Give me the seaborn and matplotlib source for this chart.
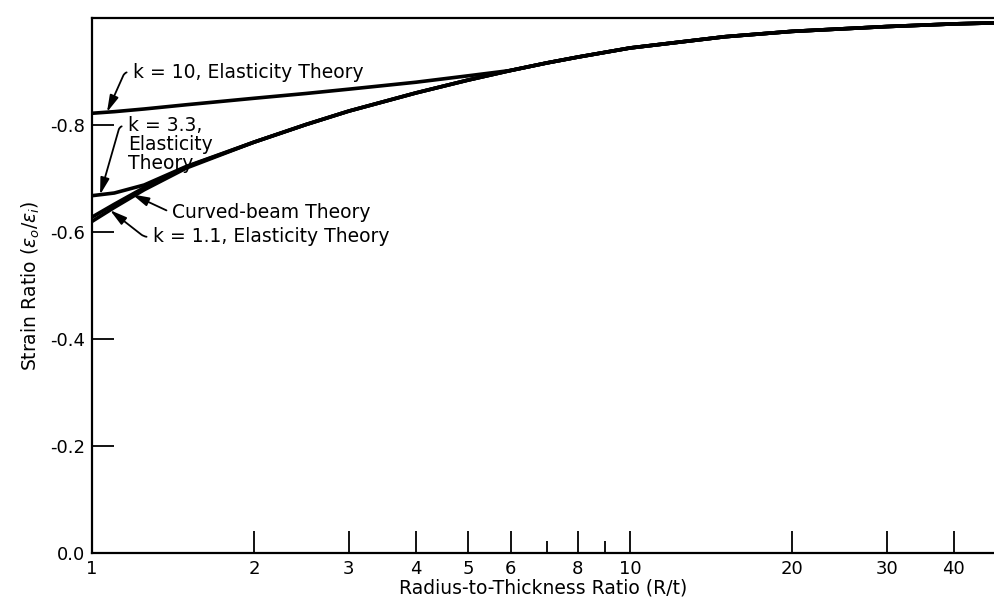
import numpy as np
import pandas as pd
import seaborn as sns
import matplotlib.pyplot as plt
from matplotlib.ticker import FixedLocator, NullFormatter

# ----- Data -----
ratio = [1, 1.1, 1.25, 1.5, 2, 2.5, 3, 4, 5, 6, 7, 8, 10, 15, 20, 30, 40, 48]
curved_beam = [-0.628, -0.652, -0.683, -0.722, -0.768, -0.801, -0.826, -0.860, -0.884,
               -0.902, -0.916, -0.927, -0.944, -0.965, -0.975, -0.984, -0.989, -0.991]
k_1_1 = [-0.620, -0.646, -0.679, -0.720, -0.768, -0.801, -0.826, -0.860, -0.884,
         -0.902, -0.916, -0.927, -0.944, -0.965, -0.975, -0.984, -0.989, -0.991]
k_3_3 = [-0.668, -0.673, -0.688, -0.723, -0.768, -0.801, -0.826, -0.860, -0.884,
         -0.902, -0.916, -0.927, -0.944, -0.965, -0.975, -0.984, -0.989, -0.991]
k_10 = [-0.822, -0.825, -0.830, -0.838, -0.850, -0.859, -0.867, -0.880, -0.892,
        -0.902, -0.916, -0.927, -0.944, -0.965, -0.975, -0.984, -0.989, -0.991]

x_major = [1, 2, 3, 4, 5, 6, 8, 10, 20, 30, 40]
x_major_labels = ['1', '2', '3', '4', '5', '6', '8', '10', '20', '30', '40']
x_minor = [7, 9]
y_ticks = [0.0, -0.2, -0.4, -0.6, -0.8]
y_tick_labels = ['0.0', '-0.2', '-0.4', '-0.6', '-0.8']

# ----- Settings -----
sns.set_style('white')
plt.rcParams['font.family'] = ['DejaVu Sans']
plt.rcParams['font.size'] = 13
plt.rcParams['text.color'] = 'black'
plt.rcParams['axes.labelcolor'] = 'black'
plt.rcParams['xtick.color'] = 'black'
plt.rcParams['ytick.color'] = 'black'

df = pd.DataFrame({'ratio': ratio, 'Curved-beam': curved_beam, 'k=1.1': k_1_1,
                   'k=3.3': k_3_3, 'k=10': k_10})
long_df = df.melt(id_vars='ratio', var_name='curve', value_name='strain')

fig = plt.figure(figsize=(9.95, 6), dpi=100)
ax = fig.add_axes([0.0925, 0.078, 0.9075, 0.892])

sns.lineplot(data=long_df, x='ratio', y='strain', units='curve', estimator=None,
             color='black', lw=2.6, ax=ax, legend=False)

ax.set_xscale('log')
ax.set_xlim(1, 47.7)
ax.set_ylim(0, -1.0)

# ----- Ticks -----
ax.xaxis.set_major_locator(FixedLocator(x_major))
ax.set_xticklabels(x_major_labels)
ax.xaxis.set_minor_locator(FixedLocator(x_minor))
ax.xaxis.set_minor_formatter(NullFormatter())
ax.set_yticks(y_ticks)
ax.set_yticklabels(y_tick_labels)
ax.tick_params(axis='both', which='major', direction='in', length=16, width=1.3,
               color='black', labelcolor='black', labelsize=13, pad=5,
               bottom=True, left=True, top=False, right=False)
ax.tick_params(axis='x', which='minor', direction='in', length=9, width=1.3,
               color='black', bottom=True, top=False)

for side in ['left', 'bottom', 'top']:
    ax.spines[side].set_visible(True)
    ax.spines[side].set_color('black')
    ax.spines[side].set_linewidth(1.6)
ax.spines['right'].set_visible(False)

ax.set_xlabel('Radius-to-Thickness Ratio (R/t)', fontsize=13.5, labelpad=0)
ax.set_ylabel(r'Strain Ratio ($\epsilon_o/\epsilon_i$)', fontsize=13.5, labelpad=6)

# ----- Annotations -----
log_x = np.log10(ratio)


def on_curve(xv, yv):
    return (xv, np.interp(np.log10(xv), log_x, yv))


notes = [
    ('k = 10, Elasticity Theory', on_curve(1.066, k_10), (1.19, -0.899), 66, (0, 0.5)),
    ('k = 3.3,\nElasticity\nTheory', on_curve(1.035, k_3_3), (1.165, -0.763), 74, (0, 0.83)),
    ('Curved-beam Theory', on_curve(1.187, curved_beam), (1.41, -0.637), -25, (0, 0.5)),
    ('k = 1.1, Elasticity Theory', on_curve(1.08, k_1_1), (1.296, -0.591), -38, (0, 0.5)),
]
for label, tip, text_pos, ang, rel in notes:
    ax.annotate(label, xy=tip, xytext=text_pos, ha='left', va='center', fontsize=13.5,
                linespacing=1.0, color='black',
                arrowprops=dict(arrowstyle='-|>,head_length=0.75,head_width=0.2',
                                connectionstyle=f'angle,angleA=180,angleB={ang},rad=4',
                                relpos=rel, shrinkA=2, shrinkB=0, lw=1.3,
                                color='black'))

fig.savefig('out.png', dpi=100)
